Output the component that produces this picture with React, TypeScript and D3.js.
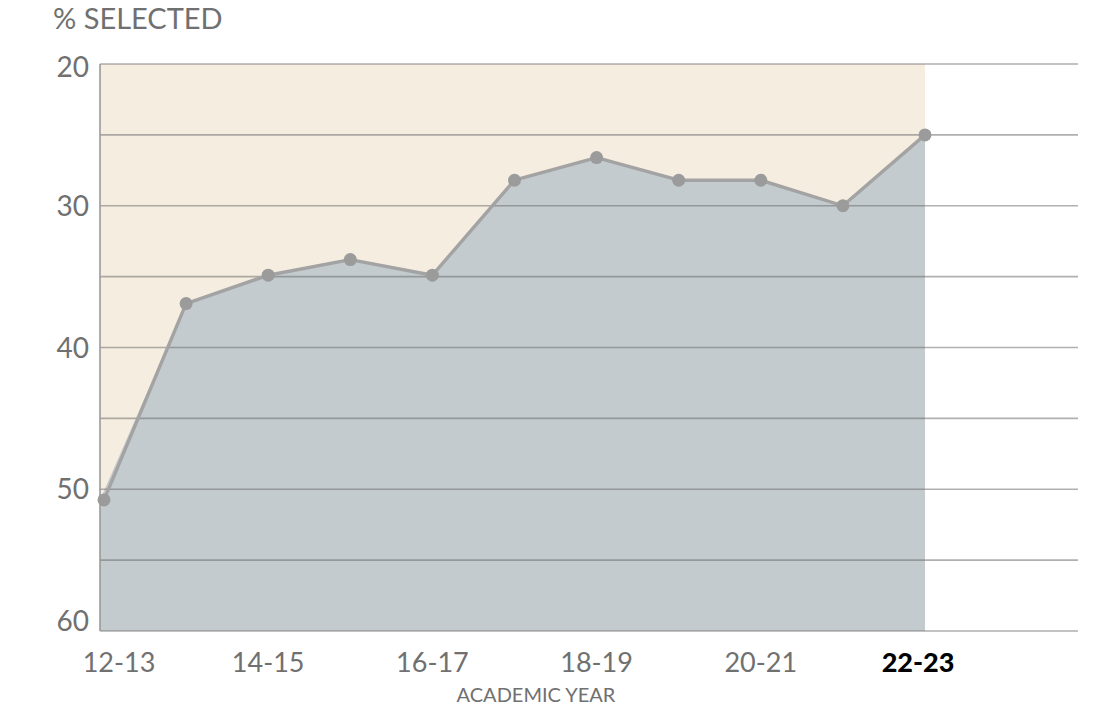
import React from "react";
import * as d3 from "d3";

const years = ["12-13", "13-14", "14-15", "15-16", "16-17", "17-18", "18-19", "19-20", "20-21", "21-22", "22-23"];
const pctSelected = [50.75, 36.9, 34.9, 33.8, 34.9, 28.2, 26.6, 28.2, 28.2, 30.0, 25.0];
const labeledYears = ["12-13", "14-15", "16-17", "18-19", "20-21", "22-23"];
const yTickLabels = [20, 30, 40, 50, 60];
const gridValues = [20, 25, 30, 35, 40, 45, 50, 55, 60];
const highlightYear = "22-23";

const W = 1096;
const H = 715;
const plotLeft = 100;
const plotRight = 1078;
const FONT = "Lato, 'Open Sans', sans-serif";

export default function App() {
  const x = d3.scalePoint<string>().domain(years).range([104, 925]);
  const y = d3.scaleLinear().domain([20, 60]).range([64, 631]);
  const data = years.map((yr, i) => ({ yr, v: pctSelected[i] }));

  const shadeRight = x(years[years.length - 1])!;

  const area = d3
    .area<{ yr: string; v: number }>()
    .x((d, i) => (i === 0 ? plotLeft : x(d.yr)!))
    .y0(y(60))
    .y1((d) => y(d.v));
  const line = d3
    .line<{ yr: string; v: number }>()
    .x((d) => x(d.yr)!)
    .y((d) => y(d.v));

  return (
    <svg
      width={W}
      height={H}
      style={{ position: "absolute", left: 0, top: 0, display: "block", background: "#fff" }}
    >
      <rect x={plotLeft} y={y(20)} width={shadeRight - plotLeft} height={y(60) - y(20)} fill="#f5ede0" />
      <path d={area(data) || ""} fill="#c3cbce" />
      {gridValues.map((g) => (
        <line
          key={g}
          x1={plotLeft}
          x2={plotRight}
          y1={y(g)}
          y2={y(g)}
          stroke="#6f6f6f"
          strokeOpacity={0.55}
          strokeWidth={1.6}
        />
      ))}
      <line x1={plotLeft} x2={plotLeft} y1={y(20)} y2={y(60)} stroke="#9a9a9a" strokeWidth={1.6} />
      <path d={line(data) || ""} fill="none" stroke="#a3a3a3" strokeWidth={3.4} strokeLinejoin="round" />
      {data.map((d) => (
        <circle key={d.yr} cx={x(d.yr)} cy={y(d.v)} r={6.5} fill="#9b9b9b" />
      ))}
      <text x={53} y={29} fontFamily={FONT} fontSize={29} fill="#707070">
        % SELECTED
      </text>
      {yTickLabels.map((t, i) => (
        <text
          key={t}
          x={89}
          y={y(t) + (i === 0 ? 3 : i === yTickLabels.length - 1 ? -10 : 0)}
          dy="0.36em"
          textAnchor="end"
          fontFamily={FONT}
          fontSize={28}
          fill="#707070"
        >
          {t}
        </text>
      ))}
      {labeledYears.map((yr, i) => (
        <text
          key={yr}
          x={x(yr)! + (i === 0 ? 15 : i === labeledYears.length - 1 ? -7 : 0)}
          y={672}
          textAnchor="middle"
          fontFamily={FONT}
          fontSize={27}
          fontWeight={yr === highlightYear ? 900 : 400}
          fill={yr === highlightYear ? "#000" : "#707070"}
        >
          {yr}
        </text>
      ))}
      <text x={536} y={702} textAnchor="middle" fontFamily={FONT} fontSize={20} fill="#707070">
        ACADEMIC YEAR
      </text>
    </svg>
  );
}
